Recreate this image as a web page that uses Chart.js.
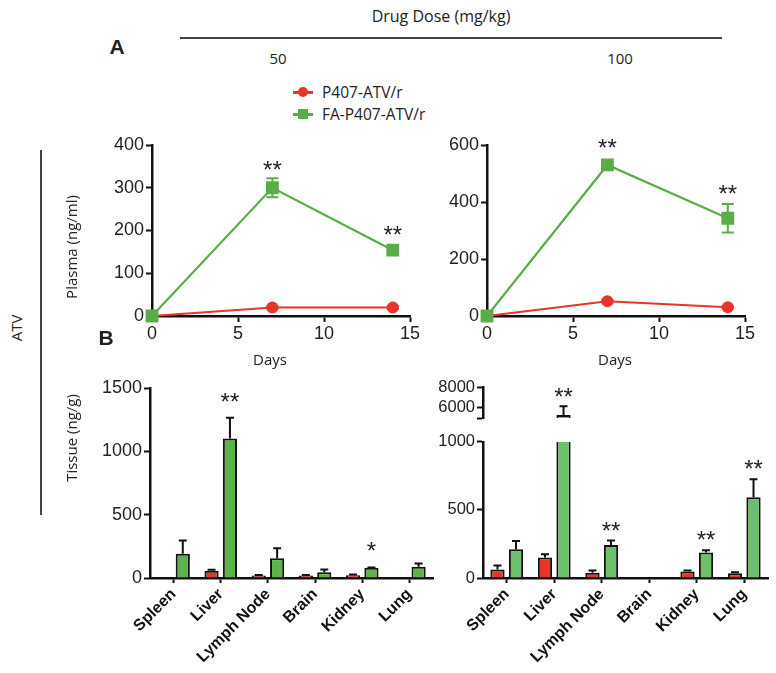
<!DOCTYPE html>
<html>
<head>
<meta charset="utf-8">
<script src="https://cdn.jsdelivr.net/npm/chart.js@4.4.1/dist/chart.umd.min.js"></script>
<style>
  body { margin: 0; background: #fff; width: 776px; height: 673px; position: relative; overflow: hidden; font-family: "Open Sans", "Noto Sans", sans-serif; color: #222; }
  .box { position: absolute; }
  .txt { position: absolute; white-space: nowrap; line-height: 1; font-size: 15px; }
  .rule { position: absolute; background: #444; }
</style>
</head>
<body>

<div class="rule" style="left:180px;top:37px;width:542px;height:2px"></div>
<div class="rule" style="left:40px;top:150px;width:1.5px;height:365px"></div>
<div id="legend" class="box" style="left:293px;top:81px"></div>

<div class="box" style="left:100px;top:120px"><canvas id="plasma50" width="330" height="230"></canvas></div>
<div class="box" style="left:435px;top:120px"><canvas id="plasma100" width="330" height="230"></canvas></div>
<div class="box" style="left:100px;top:370px"><canvas id="tissue50" width="340" height="303"></canvas></div>
<div class="box" style="left:430px;top:370px"><canvas id="tissue100Top" width="346" height="60"></canvas></div>
<div class="box" style="left:430px;top:430px"><canvas id="tissue100" width="346" height="243"></canvas></div>

<script>
// ===== data =====
const days = [0, 7, 14];
const dayTicks = [0, 5, 10, 15];
const seriesLabels = ['P407-ATV/r', 'FA-P407-ATV/r'];

const plasma50Red = [0, 20, 20];
const plasma50RedErr = [0, 3, 3];
const plasma50Green = [0, 300, 154];
const plasma50GreenErr = [0, 22, 6];
const plasma50Stars = ['', '**', '**'];
const plasma50Ticks = [0, 100, 200, 300, 400];

const plasma100Red = [0, 52, 31];
const plasma100RedErr = [0, 5, 4];
const plasma100Green = [0, 530, 343];
const plasma100GreenErr = [0, 8, 50];
const plasma100Stars = ['', '**', '**'];
const plasma100Ticks = [0, 200, 400, 600];

const organs = ['Spleen', 'Liver', 'Lymph Node', 'Brain', 'Kidney', 'Lung'];

const tissue50Red = [null, 58, 20, 20, 22, null];
const tissue50RedErr = [0, 8, 4, 4, 6, 0];
const tissue50Green = [192, 1102, 155, 45, 80, 89];
const tissue50GreenErr = [105, 163, 80, 22, 3, 26];
const tissue50Stars = ['', '**', '', '', '*', ''];
const tissue50Ticks = [0, 500, 1000, 1500];

const tissue100Red = [62, 151, 38, 3, 48, 34];
const tissue100RedErr = [29, 24, 17, 0, 7, 9];
const tissue100Green = [211, 5300, 242, 2, 187, 593];
const tissue100GreenErr = [60, 850, 33, 0, 17, 132];
const tissue100Stars = ['', '**', '**', '', '**', '**'];
const tissue100LowTicks = [0, 500, 1000];
const tissue100HighTicks = [5000, 6000, 8000];

const RED = '#e8342a';
const GREEN = '#5aad46';
const GREEN_BAR50 = '#5bb44a';
const GREEN_BAR100 = '#6cbf6b';
const INK = '#111';
const NUM_FONT = '"Liberation Sans", Arial, sans-serif';

// ===== plain text bits =====
function label(text, x, y, css, rot) {
  const d = document.createElement('div');
  d.className = 'txt';
  d.textContent = text;
  d.style.left = x + 'px';
  d.style.top = y + 'px';
  d.style.transform = 'translate(-50%,-50%)' + (rot ? ' rotate(' + rot + 'deg)' : '');
  if (css) d.style.cssText += css;
  document.body.appendChild(d);
}
label('Drug Dose (mg/kg)', 441, 16, 'font-size:16px');
label('50', 278, 58);
label('100', 620, 58);
label('A', 117, 47, 'font:bold 21px ' + NUM_FONT);
label('B', 106, 338, 'font:bold 21px ' + NUM_FONT);
label('Plasma (ng/ml)', 71, 247, '', -90);
label('Tissue (ng/g)', 71, 438, '', -90);
label('ATV', 16, 328, '', -90);
label('Days', 270, 359);
label('Days', 615, 359);

// legend
const legend = document.getElementById('legend');
[[RED, '50%'], [GREEN, '0']].forEach(([c, rad], i) => {
  const row = document.createElement('div');
  row.style.cssText = 'display:flex;align-items:center;height:22px;font-size:15.5px';
  const mk = document.createElement('span');
  mk.style.cssText = 'position:relative;width:20px;height:12px;margin-right:9px';
  mk.innerHTML = '<span style="position:absolute;left:0;top:5px;width:20px;height:2.5px;background:' + c + '"></span>' +
    '<span style="position:absolute;left:5px;top:1px;width:10px;height:10px;border-radius:' + rad + ';background:' + c + '"></span>';
  row.appendChild(mk);
  row.appendChild(document.createTextNode(seriesLabels[i]));
  legend.appendChild(row);
});

// ===== error bars + asterisks =====
function drawErrors(chart, o) {
  const ctx = chart.ctx, a = chart.chartArea;
  ctx.save();
  if (o.bars) { ctx.beginPath(); ctx.rect(a.left, a.top - 1, a.right - a.left, a.bottom - a.top + 1); ctx.clip(); }
  chart.data.datasets.forEach((ds, d) => {
    const meta = chart.getDatasetMeta(d);
    const y = chart.scales[meta.yAxisID];
    ds.errors.forEach((e, i) => {
      const v = ds.data[i];
      if (v == null || !e) return;
      const el = meta.data[i];
      const top = y.getPixelForValue(v + e);
      const bottom = o.bars ? el.y : y.getPixelForValue(v - e);
      ctx.strokeStyle = o.bars ? INK : ds.borderColor;
      ctx.lineWidth = 2;
      ctx.beginPath();
      ctx.moveTo(el.x, bottom); ctx.lineTo(el.x, top);
      ctx.moveTo(el.x - o.cap, top); ctx.lineTo(el.x + o.cap, top);
      if (!o.bars) { ctx.moveTo(el.x - o.cap, bottom); ctx.lineTo(el.x + o.cap, bottom); }
      ctx.stroke();
    });
  });
  ctx.restore();
}

function drawStars(chart, o) {
  const ctx = chart.ctx, a = chart.chartArea;
  const ds = chart.data.datasets[1];
  const meta = chart.getDatasetMeta(1);
  const y = chart.scales[meta.yAxisID];
  ctx.save();
  ctx.font = '24px ' + NUM_FONT;
  ctx.fillStyle = '#222';
  ctx.textAlign = 'center';
  o.stars.forEach((s, i) => {
    if (!s) return;
    let top = y.getPixelForValue(ds.data[i] + (ds.errors[i] || 0));
    if (!o.bars) top = Math.min(top, meta.data[i].y - 7);
    if (top < a.top - 2 || top > a.bottom) return;
    ctx.fillText(s, meta.data[i].x, top - o.gap + 14);
  });
  ctx.restore();
}

const extras = {
  id: 'extras',
  beforeDatasetsDraw(chart, args, o) { if (!o.bars) drawErrors(chart, o); },
  afterDatasetsDraw(chart, args, o) { if (o.bars) drawErrors(chart, o); drawStars(chart, o); }
};

// ===== shared axis bits =====
const border = { display: true, color: INK, width: 2.5 };
const tickGrid = { display: true, drawOnChartArea: false, tickLength: 6, tickWidth: 2, tickColor: INK };
const setTicks = vals => scale => { scale.ticks = vals.map(v => ({ value: v })); };

function yAxis(min, max, ticks, width, size) {
  return {
    min: min, max: max,
    afterBuildTicks: setTicks(ticks),
    afterFit: s => { s.width = width; },
    border: border,
    grid: tickGrid,
    ticks: { font: { family: NUM_FONT, size: size }, color: '#222', padding: 2, autoSkip: false,
             callback: v => (v === min && min > 0) ? '' : v }
  };
}

// ===== Plasma line charts =====
function plasmaChart(id, red, redErr, green, greenErr, stars, yTicks, gap) {
  new Chart(document.getElementById(id), {
    type: 'line',
    data: {
      labels: days,
      datasets: [
        { label: seriesLabels[0], data: red, errors: redErr, borderColor: RED, backgroundColor: RED,
          borderWidth: 2, pointStyle: 'circle', pointRadius: 5, clip: false, order: 1 },
        { label: seriesLabels[1], data: green, errors: greenErr, borderColor: GREEN, backgroundColor: GREEN,
          borderWidth: 2.2, pointStyle: 'rect', pointRadius: 7.5, clip: false, order: 0 }
      ]
    },
    options: {
      responsive: false, animation: false, events: [],
      layout: { padding: { top: 25, right: 20, left: 0, bottom: 0 } },
      plugins: { legend: { display: false }, tooltip: { enabled: false },
                 extras: { bars: false, cap: 6, stars: stars, gap: gap } },
      scales: {
        x: { type: 'linear', min: 0, max: 15,
             afterBuildTicks: setTicks(dayTicks),
             afterFit: s => { s.height = 34; },
             border: border, grid: tickGrid,
             ticks: { font: { family: NUM_FONT, size: 18 }, color: '#222', padding: 1 } },
        y: yAxis(0, yTicks[yTicks.length - 1], yTicks, 52, 18)
      }
    },
    plugins: [extras]
  });
}
plasmaChart('plasma50', plasma50Red, plasma50RedErr, plasma50Green, plasma50GreenErr, plasma50Stars, plasma50Ticks, 14);
plasmaChart('plasma100', plasma100Red, plasma100RedErr, plasma100Green, plasma100GreenErr, plasma100Stars, plasma100Ticks, 16);

// ===== Tissue bar charts =====
function tissueChart(id, o) {
  new Chart(document.getElementById(id), {
    type: 'bar',
    data: {
      labels: organs,
      datasets: [
        { label: seriesLabels[0], data: o.red, errors: o.redErr, backgroundColor: RED },
        { label: seriesLabels[1], data: o.green, errors: o.greenErr, backgroundColor: o.greenColor }
      ].map(d => Object.assign(d, { borderColor: INK, borderWidth: 2, clip: 0,
                                     categoryPercentage: 0.78, barPercentage: 0.77 }))
    },
    options: {
      responsive: false, animation: false, events: [],
      layout: { padding: o.padding },
      plugins: { legend: { display: false }, tooltip: { enabled: false },
                 extras: { bars: true, cap: 4, stars: o.stars, gap: o.gap } },
      scales: {
        x: { display: o.showX,
             afterFit: s => { s.height = o.showX ? 95 : 0; },
             border: border,
             grid: { display: true, drawOnChartArea: false, offset: false, tickLength: 5, tickWidth: 2, tickColor: INK },
             ticks: { font: { family: NUM_FONT, size: 16, weight: 'bold' }, color: INK,
                      minRotation: 45, maxRotation: 45, padding: 2, autoSkip: false } },
        y: yAxis(o.min, o.max, o.ticks, o.yWidth, o.size)
      }
    },
    plugins: [extras]
  });
}

tissueChart('tissue50', {
  red: tissue50Red, redErr: tissue50RedErr, green: tissue50Green, greenErr: tissue50GreenErr,
  greenColor: GREEN_BAR50, stars: tissue50Stars, gap: 22,
  min: 0, max: 1500, ticks: tissue50Ticks, yWidth: 50, size: 18, showX: true,
  padding: { top: 18, right: 7, left: 0, bottom: 0 }
});
tissueChart('tissue100Top', {
  red: tissue100Red, redErr: tissue100RedErr, green: tissue100Green, greenErr: tissue100GreenErr,
  greenColor: GREEN_BAR100, stars: tissue100Stars, gap: 15,
  min: 5000, max: 8000, ticks: tissue100HighTicks, yWidth: 53, size: 16.5, showX: false,
  padding: { top: 17, right: 8, left: 0, bottom: 3 }
});
tissueChart('tissue100', {
  red: tissue100Red, redErr: tissue100RedErr, green: tissue100Green, greenErr: tissue100GreenErr,
  greenColor: GREEN_BAR100, stars: tissue100Stars, gap: 16,
  min: 0, max: 1000, ticks: tissue100LowTicks, yWidth: 53, size: 16.5, showX: true,
  padding: { top: 8, right: 8, left: 0, bottom: 0 }
});
</script>
</body>
</html>
